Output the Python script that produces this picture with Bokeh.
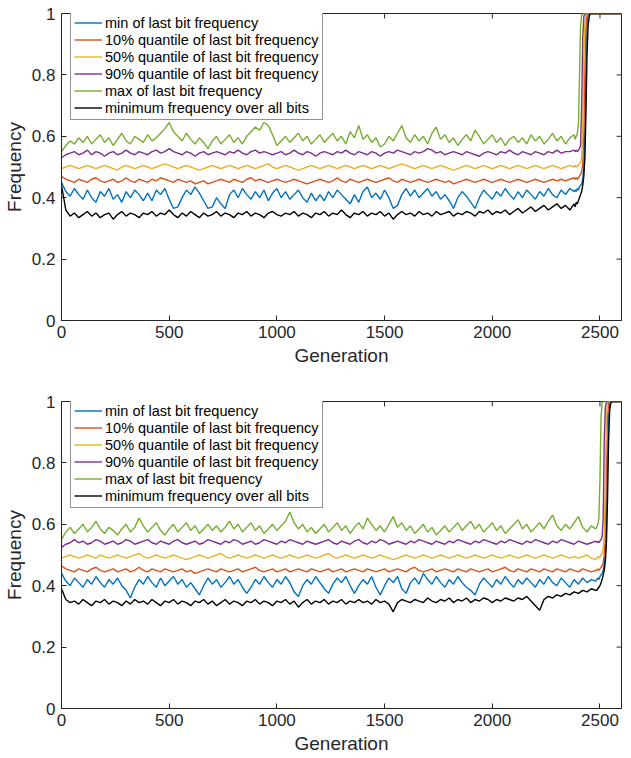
from bokeh.plotting import figure
from bokeh.models import Range1d, FixedTicker, Legend, LegendItem
from bokeh.layouts import column
from bokeh.embed import file_html
from bokeh.resources import INLINE

# ---------------- data ----------------
series_labels = ["min of last bit frequency",
                 "10% quantile of last bit frequency",
                 "50% quantile of last bit frequency",
                 "90% quantile of last bit frequency",
                 "max of last bit frequency",
                 "minimum frequency over all bits"]
x_ticks = [0, 500, 1000, 1500, 2000, 2500]
y_ticks = [0, 0.2, 0.4, 0.6, 0.8, 1]
y_tick_labels = ["0", "0.2", "0.4", "0.6", "0.8", "1"]
x_lim = (0, 2600)
y_lim = (0, 1)

# ---- top panel (generations 0..2380 every 20, then the final jump) ----
gen_top = list(range(0, 2400, 20)) + [2385, 2390, 2395, 2400, 2405, 2410, 2415, 2420,
                                      2425, 2430, 2435, 2440, 2445, 2450, 2455, 2460, 2600]

top_min = [0.45,0.42,0.405,0.43,0.41,0.395,0.425,0.40,0.385,0.42,
           0.405,0.43,0.395,0.41,0.385,0.42,0.40,0.425,0.41,0.39,
           0.415,0.39,0.425,0.41,0.43,0.395,0.365,0.37,0.40,0.425,
           0.41,0.435,0.415,0.39,0.365,0.37,0.40,0.38,0.365,0.41,
           0.425,0.40,0.43,0.41,0.395,0.42,0.40,0.425,0.39,0.415,
           0.43,0.40,0.42,0.395,0.41,0.425,0.40,0.385,0.415,0.39,
           0.41,0.39,0.42,0.40,0.425,0.41,0.395,0.38,0.41,0.385,
           0.42,0.435,0.40,0.415,0.395,0.425,0.40,0.365,0.375,0.41,
           0.43,0.405,0.425,0.40,0.415,0.43,0.405,0.42,0.395,0.41,
           0.39,0.365,0.40,0.42,0.405,0.385,0.365,0.40,0.425,0.41,
           0.395,0.42,0.405,0.43,0.41,0.395,0.42,0.40,0.425,0.41,
           0.395,0.42,0.405,0.43,0.41,0.40,0.425,0.41,0.43,0.42,
           0.425,0.42,0.43,0.425,0.435,0.44,0.445,0.46,0.50,0.62,0.84,0.96,0.995,1,1,1,1]
top_q10 = [0.47,0.46,0.455,0.45,0.46,0.455,0.45,0.46,0.465,0.455,
           0.45,0.455,0.46,0.45,0.455,0.465,0.455,0.45,0.46,0.455,
           0.45,0.46,0.455,0.465,0.46,0.455,0.45,0.46,0.455,0.45,
           0.455,0.445,0.45,0.455,0.445,0.45,0.455,0.46,0.455,0.45,
           0.46,0.455,0.45,0.46,0.465,0.455,0.46,0.455,0.45,0.455,
           0.46,0.455,0.45,0.455,0.46,0.455,0.45,0.445,0.45,0.455,
           0.46,0.455,0.45,0.455,0.465,0.455,0.45,0.46,0.455,0.45,
           0.455,0.46,0.455,0.45,0.455,0.46,0.465,0.455,0.45,0.46,
           0.455,0.45,0.455,0.46,0.455,0.45,0.455,0.46,0.455,0.45,
           0.455,0.445,0.45,0.455,0.46,0.455,0.45,0.455,0.46,0.455,
           0.45,0.455,0.46,0.455,0.45,0.455,0.46,0.455,0.45,0.455,
           0.46,0.455,0.45,0.455,0.46,0.455,0.46,0.455,0.46,0.465,
           0.46,0.465,0.46,0.465,0.47,0.475,0.485,0.51,0.60,0.82,0.96,0.995,1,1,1,1,1]
top_q50 = [0.495,0.5,0.505,0.5,0.495,0.5,0.505,0.5,0.495,0.5,
           0.505,0.5,0.495,0.49,0.5,0.505,0.5,0.495,0.5,0.505,
           0.5,0.495,0.5,0.505,0.51,0.505,0.5,0.495,0.5,0.505,
           0.5,0.495,0.49,0.495,0.5,0.505,0.5,0.495,0.5,0.505,
           0.5,0.495,0.5,0.505,0.5,0.495,0.5,0.505,0.51,0.5,
           0.495,0.5,0.505,0.5,0.495,0.49,0.495,0.5,0.505,0.5,
           0.495,0.5,0.505,0.5,0.495,0.5,0.505,0.5,0.495,0.5,
           0.505,0.5,0.495,0.5,0.505,0.5,0.495,0.5,0.505,0.51,
           0.505,0.5,0.495,0.5,0.505,0.5,0.495,0.5,0.505,0.5,
           0.495,0.49,0.495,0.5,0.505,0.5,0.495,0.5,0.505,0.5,
           0.495,0.5,0.505,0.5,0.495,0.5,0.505,0.5,0.495,0.5,
           0.505,0.5,0.495,0.5,0.505,0.5,0.495,0.5,0.505,0.5,
           0.505,0.50,0.505,0.505,0.51,0.515,0.53,0.62,0.85,0.97,1,1,1,1,1,1,1]
top_q90 = [0.53,0.54,0.545,0.55,0.54,0.545,0.555,0.54,0.55,0.545,
           0.535,0.545,0.55,0.54,0.545,0.555,0.545,0.54,0.55,0.545,
           0.54,0.55,0.555,0.545,0.55,0.56,0.55,0.545,0.54,0.55,
           0.545,0.535,0.545,0.55,0.54,0.545,0.55,0.545,0.54,0.55,
           0.545,0.555,0.545,0.54,0.55,0.555,0.545,0.55,0.545,0.54,
           0.545,0.55,0.54,0.545,0.555,0.545,0.54,0.55,0.545,0.535,
           0.545,0.55,0.545,0.54,0.55,0.545,0.555,0.545,0.54,0.55,
           0.545,0.54,0.55,0.545,0.535,0.545,0.55,0.545,0.555,0.55,
           0.545,0.54,0.55,0.545,0.55,0.56,0.555,0.545,0.55,0.54,
           0.545,0.55,0.545,0.54,0.55,0.545,0.54,0.535,0.545,0.55,
           0.545,0.54,0.55,0.545,0.555,0.545,0.54,0.55,0.545,0.54,
           0.55,0.545,0.54,0.55,0.545,0.555,0.545,0.55,0.55,0.555,
           0.55,0.555,0.55,0.555,0.56,0.57,0.70,0.92,0.99,1,1,1,1,1,1,1,1]
top_max = [0.55,0.57,0.585,0.575,0.595,0.58,0.60,0.575,0.59,0.605,
           0.58,0.595,0.57,0.59,0.61,0.585,0.575,0.60,0.59,0.58,
           0.605,0.585,0.595,0.61,0.625,0.645,0.615,0.60,0.585,0.61,
           0.59,0.575,0.595,0.58,0.56,0.585,0.60,0.575,0.59,0.605,
           0.58,0.595,0.575,0.60,0.615,0.63,0.62,0.645,0.635,0.605,
           0.57,0.585,0.60,0.58,0.595,0.61,0.585,0.60,0.575,0.59,
           0.605,0.58,0.595,0.61,0.585,0.60,0.575,0.615,0.595,0.635,
           0.59,0.605,0.58,0.595,0.565,0.575,0.60,0.585,0.61,0.635,
           0.595,0.58,0.605,0.585,0.60,0.575,0.61,0.63,0.59,0.605,
           0.58,0.595,0.57,0.59,0.605,0.585,0.62,0.60,0.575,0.59,
           0.605,0.58,0.595,0.57,0.59,0.60,0.58,0.595,0.575,0.605,
           0.585,0.60,0.575,0.59,0.61,0.585,0.60,0.575,0.595,0.605,
           0.59,0.60,0.61,0.64,0.80,0.96,0.995,1,1,1,1,1,1,1,1,1,1]
top_all = [0.44,0.36,0.34,0.35,0.335,0.345,0.355,0.34,0.35,0.335,
           0.345,0.35,0.33,0.345,0.355,0.34,0.35,0.345,0.335,0.35,
           0.345,0.355,0.34,0.35,0.345,0.36,0.345,0.335,0.35,0.34,
           0.355,0.345,0.335,0.35,0.34,0.345,0.355,0.34,0.35,0.345,
           0.335,0.35,0.345,0.355,0.34,0.35,0.345,0.335,0.35,0.355,
           0.345,0.34,0.35,0.345,0.355,0.34,0.35,0.345,0.335,0.35,
           0.345,0.355,0.34,0.35,0.345,0.36,0.345,0.335,0.35,0.345,
           0.355,0.34,0.35,0.345,0.355,0.34,0.35,0.33,0.345,0.355,
           0.345,0.35,0.34,0.355,0.345,0.35,0.34,0.355,0.345,0.35,
           0.355,0.34,0.35,0.345,0.355,0.35,0.34,0.355,0.35,0.36,
           0.345,0.355,0.35,0.36,0.345,0.355,0.365,0.35,0.36,0.37,
           0.355,0.365,0.375,0.36,0.37,0.38,0.365,0.375,0.36,0.38,
           0.37,0.385,0.38,0.39,0.40,0.41,0.42,0.44,0.47,0.53,0.68,0.87,0.96,0.99,1,1,1]

# ---- bottom panel (generations 0..2480 every 20, then the final jump) ----
gen_bot = list(range(0, 2500, 20)) + [2485, 2490, 2495, 2500, 2505, 2510, 2515, 2520,
                                      2525, 2530, 2535, 2540, 2545, 2550, 2555, 2560, 2600]

bot_min = [0.44,0.415,0.40,0.425,0.41,0.395,0.42,0.405,0.43,0.41,
           0.395,0.42,0.405,0.425,0.40,0.385,0.36,0.395,0.42,0.405,
           0.43,0.41,0.395,0.425,0.40,0.415,0.43,0.405,0.42,0.395,
           0.41,0.39,0.37,0.40,0.425,0.405,0.42,0.395,0.41,0.43,
           0.405,0.42,0.395,0.375,0.395,0.42,0.405,0.43,0.41,0.395,
           0.42,0.405,0.43,0.41,0.38,0.365,0.40,0.42,0.405,0.43,
           0.41,0.39,0.375,0.405,0.425,0.41,0.43,0.40,0.375,0.40,
           0.42,0.405,0.43,0.395,0.37,0.40,0.425,0.41,0.43,0.39,
           0.375,0.41,0.425,0.405,0.44,0.42,0.405,0.43,0.41,0.395,
           0.42,0.405,0.43,0.41,0.395,0.385,0.37,0.405,0.425,0.41,
           0.395,0.42,0.405,0.43,0.41,0.395,0.42,0.405,0.425,0.41,
           0.395,0.42,0.405,0.43,0.41,0.40,0.425,0.41,0.395,0.42,
           0.405,0.425,0.41,0.42,0.415,
           0.42,0.425,0.42,0.43,0.435,0.44,0.45,0.47,0.50,0.58,0.80,0.95,0.995,1,1,1,1]
bot_q10 = [0.465,0.455,0.45,0.445,0.455,0.45,0.445,0.455,0.46,0.45,
           0.445,0.45,0.455,0.445,0.45,0.455,0.445,0.45,0.46,0.45,
           0.445,0.455,0.45,0.445,0.455,0.45,0.445,0.45,0.455,0.445,
           0.45,0.44,0.445,0.45,0.455,0.45,0.445,0.455,0.45,0.445,
           0.45,0.455,0.445,0.45,0.455,0.46,0.45,0.445,0.45,0.455,
           0.445,0.45,0.455,0.445,0.45,0.455,0.45,0.445,0.455,0.45,
           0.445,0.45,0.455,0.445,0.45,0.455,0.445,0.45,0.455,0.45,
           0.445,0.455,0.45,0.445,0.45,0.455,0.445,0.45,0.455,0.45,
           0.445,0.455,0.46,0.45,0.445,0.45,0.455,0.445,0.45,0.455,
           0.45,0.445,0.455,0.45,0.445,0.455,0.45,0.445,0.45,0.455,
           0.445,0.45,0.455,0.46,0.45,0.445,0.455,0.45,0.445,0.455,
           0.45,0.445,0.455,0.45,0.445,0.455,0.45,0.445,0.455,0.45,
           0.445,0.455,0.45,0.445,0.45,
           0.45,0.455,0.45,0.455,0.46,0.465,0.475,0.50,0.56,0.78,0.95,0.995,1,1,1,1,1]
bot_q50 = [0.49,0.495,0.5,0.495,0.49,0.495,0.5,0.495,0.49,0.5,
           0.495,0.49,0.495,0.5,0.495,0.49,0.495,0.5,0.505,0.495,
           0.49,0.495,0.5,0.495,0.49,0.495,0.5,0.495,0.49,0.485,
           0.49,0.495,0.5,0.495,0.49,0.495,0.5,0.505,0.495,0.49,
           0.495,0.5,0.495,0.49,0.495,0.5,0.495,0.49,0.495,0.5,
           0.495,0.49,0.495,0.5,0.495,0.49,0.495,0.5,0.495,0.49,
           0.495,0.5,0.505,0.495,0.49,0.495,0.5,0.495,0.49,0.495,
           0.5,0.495,0.49,0.495,0.5,0.495,0.49,0.485,0.49,0.495,
           0.5,0.495,0.49,0.495,0.5,0.495,0.49,0.495,0.5,0.495,
           0.49,0.495,0.5,0.495,0.49,0.495,0.5,0.495,0.49,0.495,
           0.5,0.495,0.49,0.495,0.5,0.495,0.49,0.495,0.5,0.495,
           0.49,0.495,0.5,0.495,0.49,0.495,0.5,0.495,0.49,0.495,
           0.49,0.495,0.5,0.49,0.485,
           0.49,0.495,0.49,0.495,0.50,0.505,0.52,0.56,0.75,0.95,0.995,1,1,1,1,1,1]
bot_q90 = [0.525,0.535,0.54,0.55,0.54,0.545,0.535,0.54,0.55,0.545,
           0.535,0.54,0.545,0.535,0.54,0.55,0.545,0.535,0.54,0.545,
           0.55,0.54,0.535,0.545,0.54,0.535,0.545,0.55,0.54,0.535,
           0.54,0.545,0.535,0.54,0.55,0.545,0.54,0.535,0.545,0.54,
           0.55,0.545,0.535,0.54,0.545,0.535,0.54,0.55,0.545,0.54,
           0.535,0.545,0.54,0.55,0.545,0.54,0.535,0.545,0.54,0.535,
           0.54,0.545,0.55,0.54,0.535,0.545,0.54,0.535,0.545,0.55,
           0.54,0.535,0.545,0.54,0.55,0.545,0.535,0.54,0.545,0.54,
           0.535,0.545,0.54,0.55,0.545,0.54,0.535,0.545,0.54,0.535,
           0.545,0.54,0.55,0.545,0.54,0.535,0.545,0.54,0.55,0.545,
           0.54,0.535,0.545,0.54,0.55,0.545,0.54,0.535,0.545,0.54,
           0.55,0.545,0.54,0.535,0.545,0.54,0.55,0.545,0.54,0.535,
           0.545,0.54,0.535,0.54,0.545,
           0.54,0.545,0.54,0.545,0.55,0.56,0.62,0.88,0.98,1,1,1,1,1,1,1,1]
bot_max = [0.55,0.575,0.59,0.57,0.585,0.60,0.575,0.59,0.61,0.585,
           0.57,0.59,0.58,0.565,0.585,0.60,0.575,0.59,0.62,0.595,
           0.575,0.59,0.605,0.58,0.565,0.585,0.60,0.575,0.59,0.605,
           0.58,0.595,0.57,0.585,0.60,0.58,0.595,0.575,0.59,0.61,
           0.585,0.60,0.575,0.59,0.605,0.58,0.595,0.57,0.585,0.60,
           0.58,0.595,0.61,0.64,0.605,0.585,0.60,0.575,0.59,0.57,
           0.585,0.60,0.575,0.59,0.605,0.58,0.595,0.57,0.59,0.605,
           0.585,0.62,0.60,0.58,0.595,0.575,0.60,0.625,0.59,0.605,
           0.58,0.595,0.57,0.585,0.60,0.575,0.59,0.565,0.58,0.595,
           0.575,0.59,0.605,0.58,0.595,0.61,0.585,0.60,0.575,0.59,
           0.605,0.58,0.595,0.57,0.585,0.60,0.615,0.585,0.60,0.575,
           0.59,0.605,0.585,0.61,0.63,0.595,0.58,0.60,0.585,0.605,
           0.625,0.59,0.575,0.595,0.585,
           0.59,0.60,0.62,0.75,0.95,0.995,1,1,1,1,1,1,1,1,1,1,1]
bot_all = [0.39,0.355,0.345,0.35,0.34,0.355,0.345,0.335,0.35,0.345,
           0.355,0.34,0.35,0.345,0.335,0.35,0.34,0.355,0.345,0.35,
           0.34,0.355,0.345,0.335,0.35,0.345,0.355,0.34,0.35,0.345,
           0.335,0.35,0.345,0.355,0.34,0.35,0.335,0.345,0.355,0.34,
           0.35,0.345,0.335,0.35,0.345,0.355,0.34,0.35,0.345,0.335,
           0.35,0.345,0.355,0.34,0.35,0.33,0.345,0.355,0.34,0.35,
           0.345,0.355,0.34,0.35,0.345,0.355,0.34,0.35,0.345,0.355,
           0.345,0.35,0.34,0.355,0.345,0.35,0.34,0.315,0.345,0.355,
           0.35,0.345,0.355,0.35,0.345,0.36,0.35,0.345,0.355,0.35,
           0.36,0.345,0.355,0.35,0.36,0.345,0.355,0.35,0.36,0.355,
           0.345,0.355,0.35,0.36,0.355,0.35,0.36,0.355,0.365,0.35,
           0.335,0.32,0.355,0.365,0.36,0.37,0.365,0.375,0.37,0.38,
           0.375,0.385,0.38,0.39,0.385,
           0.385,0.39,0.395,0.40,0.41,0.42,0.435,0.45,0.48,0.54,0.68,0.87,0.97,0.995,1,1,1]

colors = ["#0072BD", "#D95319", "#EDB120", "#7E2F8E", "#77AC30", "#000000"]

FONT = "Liberation Sans"
INK = "#262626"
TICK_PX = 5
LEFT, RIGHT, WIDTH = 56, 2, 623


def make_panel(gens, series, height, top_border, bottom_border):
    p = figure(width=WIDTH, height=height, output_backend="svg", toolbar_location=None,
               x_range=Range1d(*x_lim), y_range=Range1d(*y_lim),
               min_border_left=LEFT, min_border_right=RIGHT,
               min_border_top=top_border, min_border_bottom=bottom_border)
    p.xgrid.visible = False
    p.ygrid.visible = False
    p.outline_line_color = INK
    p.outline_line_width = 1
    p.outline_line_alpha = 1
    p.background_fill_color = "white"
    p.border_fill_color = "white"

    p.xaxis.ticker = FixedTicker(ticks=x_ticks)
    p.yaxis.ticker = FixedTicker(ticks=y_ticks)
    p.yaxis.major_label_overrides = {t: s for t, s in zip(y_ticks, y_tick_labels)}
    for ax in (p.xaxis[0], p.yaxis[0]):
        ax.major_tick_in = TICK_PX
        ax.major_tick_out = 0
        ax.minor_tick_in = 0
        ax.minor_tick_out = 0
        ax.axis_line_color = INK
        ax.major_tick_line_color = INK
        ax.major_label_text_font = FONT
        ax.major_label_text_font_size = "17px"
        ax.major_label_text_color = INK
        ax.axis_label_text_font = FONT
        ax.axis_label_text_font_size = "19px"
        ax.axis_label_text_font_style = "normal"
        ax.axis_label_text_color = INK
    p.xaxis.axis_label = "Generation"
    p.yaxis.axis_label = "Frequency"
    p.xaxis.major_label_standoff = 5
    p.xaxis.axis_label_standoff = 4
    p.yaxis.major_label_standoff = 6
    p.yaxis.axis_label_standoff = 4

    # mirrored inward tick marks on the top and right edges of the box
    frame_w = WIDTH - LEFT - RIGHT
    frame_h = height - top_border - bottom_border
    dy = TICK_PX * (y_lim[1] - y_lim[0]) / frame_h
    dx = TICK_PX * (x_lim[1] - x_lim[0]) / frame_w
    p.segment(x0=x_ticks, x1=x_ticks, y0=[y_lim[1]] * len(x_ticks),
              y1=[y_lim[1] - dy] * len(x_ticks), line_color=INK, line_width=1)
    p.segment(x0=[x_lim[1]] * len(y_ticks), x1=[x_lim[1] - dx] * len(y_ticks),
              y0=y_ticks, y1=y_ticks, line_color=INK, line_width=1)

    items = []
    for vals, col, lab in zip(series, colors, series_labels):
        r = p.line(gens, vals, line_color=col, line_width=1.4)
        items.append(LegendItem(label=lab, renderers=[r]))

    leg = Legend(items=items, location=(9, frame_h - 106 - 1),
                 label_text_font=FONT, label_text_font_size="14.5px", label_text_color="black",
                 glyph_width=28, glyph_height=17, label_height=17, label_standoff=3,
                 spacing=0, padding=3, margin=0,
                 border_line_color=INK, border_line_width=1,
                 background_fill_color="white", background_fill_alpha=1)
    p.add_layout(leg, "center")
    return p


p1 = make_panel(gen_top, [top_min, top_q10, top_q50, top_q90, top_max, top_all],
                385, 13, 65)
p2 = make_panel(gen_bot, [bot_min, bot_q10, bot_q50, bot_q90, bot_max, bot_all],
                373, 16, 50)

layout = column(p1, p2, spacing=0)
open("out.html", "w").write(file_html(layout, INLINE))
